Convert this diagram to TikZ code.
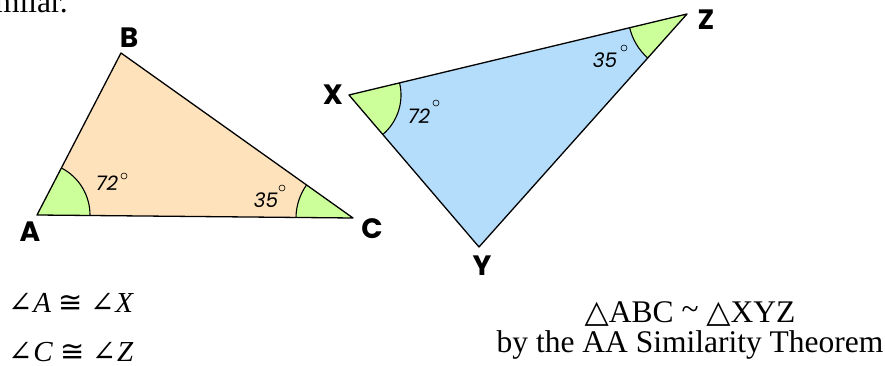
\documentclass[tikz,border=0pt]{standalone}
\usepackage{fontspec}
\setmainfont{Liberation Serif}
\newfontfamily\lblfont{Poppins}
\newfontfamily\symf{DejaVu Serif}
\newfontfamily\symsans{DejaVu Sans}
\usetikzlibrary{calc}
\definecolor{peach}{HTML}{FDE2BB}
\definecolor{skyb}{HTML}{B4DDFB}
\definecolor{lgreen}{HTML}{CCFF99}
\begin{document}
\begin{tikzpicture}[x=1pt,y=1pt,
  tri/.style={draw=black,line width=1.3pt,line join=round},
  arcln/.style={draw=black,line width=1.1pt},
  vlabel/.style={font=\lblfont\bfseries\fontsize{28}{28}\selectfont,inner sep=0pt},
  alabel/.style={font=\lblfont\itshape\fontsize{20}{20}\selectfont,inner sep=0pt},
  degc/.style={circle,draw=black,line width=0.6pt,inner sep=0pt,minimum size=6pt},
  txt/.style={inner sep=0pt,font=\fontsize{31.5}{31.5}\selectfont}]
\useasboundingbox (0,0) rectangle (885,366);
% top cut text
\node[txt,anchor=base east] (top) at (68,353) {milar.};
% triangle ABC
\coordinate (A) at (37,151);
\coordinate (B) at (121,313);
\coordinate (C) at (353,148);
\fill[peach] (A) -- (B) -- (C) -- cycle;
\fill[lgreen] (A) -- ++(-0.5:53) arc[start angle=-0.5,end angle=62.6,radius=53] -- cycle;
\fill[lgreen] (C) -- ++(144.6:57) arc[start angle=144.6,end angle=179.5,radius=57] -- cycle;
\draw[arcln] ($(A)+(-0.5:53)$) arc[start angle=-0.5,end angle=62.6,radius=53];
\draw[arcln] ($(C)+(144.6:57)$) arc[start angle=144.6,end angle=179.5,radius=57];
\draw[tri] (A) -- (B) -- (C) -- cycle;
% triangle XYZ
\coordinate (X) at (349,271);
\coordinate (Z) at (687,352);
\coordinate (Y) at (479,119);
\fill[skyb] (X) -- (Z) -- (Y) -- cycle;
\fill[lgreen] (X) -- ++(-49.5:52) arc[start angle=-49.5,end angle=13.5,radius=52] -- cycle;
\fill[lgreen] (Z) -- ++(193.5:59) arc[start angle=193.5,end angle=228.2,radius=59] -- cycle;
\draw[arcln] ($(X)+(-49.5:52)$) arc[start angle=-49.5,end angle=13.5,radius=52];
\draw[arcln] ($(Z)+(193.5:59)$) arc[start angle=193.5,end angle=228.2,radius=59];
\draw[tri] (X) -- (Z) -- (Y) -- cycle;
% vertex labels
\node[vlabel] (lB) at (129,328) {B};
\node[vlabel] (lA) at (30,134) {A};
\node[vlabel] (lC) at (372,137) {C};
\node[vlabel] (lX) at (333,271) {X};
\node[vlabel] (lZ) at (706,346) {Z};
\node[vlabel] (lY) at (482,100) {Y};
% angle labels
\node[alabel] (a1) at (107,183) {72};
\node[degc] (d1) at (124,190) {};
\node[alabel] (a2) at (266,166) {35};
\node[degc] (d2) at (282,178) {};
\node[alabel] (a3) at (419,250) {72};
\node[degc] (d3) at (436,263) {};
\node[alabel] (a4) at (605,306) {35};
\node[degc] (d4) at (624,318) {};
% bottom texts
\node[txt,anchor=base west,font=\fontsize{29}{29}\selectfont] (e1) at (8,53) {{\symf ∠}\kern1pt\textit{A} {\symsans ≅} {\symf ∠}\kern1pt\textit{X}};
\node[txt,anchor=base west,font=\fontsize{29}{29}\selectfont] (e2) at (8,4) {{\symf ∠}\kern1pt\textit{C} {\symsans ≅} {\symf ∠}\kern1pt\textit{Z}};
\node[txt,anchor=base] (s1) at (690,43) {{\symf △}ABC \raisebox{0.12em}{\textasciitilde} {\symf △}XYZ};
\node[txt,anchor=base] (s2) at (690,13) {by the AA Similarity Theorem};
\end{tikzpicture}
\end{document}
